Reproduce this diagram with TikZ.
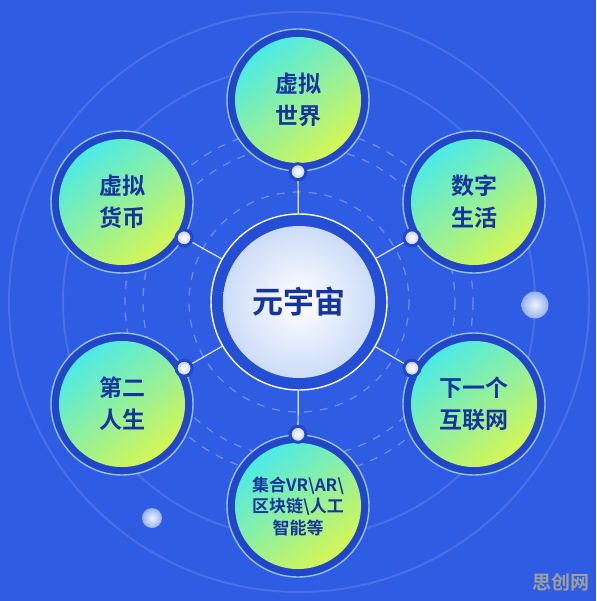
\documentclass[tikz,border=0pt]{standalone}
\usepackage{fontspec}
\newfontfamily\cjk{Noto Sans CJK SC Bold}
\definecolor{bgblue}{RGB}{46,92,226}
\definecolor{bandblue}{RGB}{33,70,200}
\definecolor{rimblue}{RGB}{150,195,255}
\definecolor{topcyan}{RGB}{76,234,230}
\definecolor{toplime}{RGB}{214,246,84}
\definecolor{inkblue}{RGB}{22,52,160}
\definecolor{hubblue}{RGB}{36,78,212}
\definecolor{hubpale}{RGB}{204,220,248}
\definecolor{knobgray}{RGB}{196,208,238}
\definecolor{orbblue}{RGB}{150,176,240}
\tikzset{
  faint/.style={draw=white,draw opacity=0.13,line width=2pt},
  dashring/.style={draw=white,draw opacity=0.3,line width=1.3pt,dash pattern=on 8pt off 8pt},
  rim/.style={circle,minimum size=142pt,inner sep=0pt,fill=bandblue,draw=rimblue,line width=1.4pt},
  topic/.style={circle,minimum size=126pt,inner sep=0pt,align=center,text=inkblue,
    font=\cjk\fontsize{23}{32}\selectfont,top color=topcyan,bottom color=toplime,shading angle=38},
  knob/.style={circle,minimum size=16pt,inner sep=0pt,inner color=white,outer color=knobgray,
    draw=bandblue,line width=3pt},
  spoke/.style={draw=white,draw opacity=0.85,line width=1.2pt},
  orb/.style={circle,inner sep=0pt,inner color=white!85!orbblue,outer color=orbblue},
}
\begin{document}
\begin{tikzpicture}[x=1pt,y=1pt,yscale=-1,xscale=1]
\useasboundingbox (0,0) rectangle (596,601);

%Background
\fill[bgblue] (0,0) rectangle (596,601);
\coordinate (mid) at (299,302);

%Rings round the hub
\draw[faint] (mid) circle (290);
\draw[faint] (mid) circle (236);
\draw[dashring] (mid) circle (174);
\draw[dashring] (mid) circle (156);
\draw[dashring] (mid) circle (110);

%Small orbs
\node[orb,minimum size=27pt] (orbR) at (535,305) {};
\node[orb,minimum size=20pt] (orbL) at (152,518) {};

%Hub
\node[circle,minimum size=176pt,fill=hubblue,draw=white,line width=1.4pt] (hub) at (mid) {};
\node[circle,minimum size=152pt,inner sep=0pt,inner color=white,outer color=hubpale,text=inkblue,
  font=\cjk\fontsize{31}{36}\selectfont] (yuzhou) at (mid) {元宇宙};

%Topics
\node[rim] (rimA) at (298,100) {};
\node[topic] (shijie) at (rimA) {虚拟\\世界};
\node[rim] (rimB) at (474,202) {};
\node[topic] (shenghuo) at (rimB) {数字\\生活};
\node[rim] (rimC) at (474,404) {};
\node[topic] (hulianwang) at (rimC) {下一个\\互联网};
\node[rim] (rimD) at (298,506) {};
\node[topic,font=\cjk\fontsize{17}{21.5}\selectfont] (jihe) at (rimD) {集合VR\textbackslash AR\textbackslash\\区块链\textbackslash 人工\\智能等};
\node[rim] (rimE) at (122,404) {};
\node[topic] (rensheng) at (rimE) {第二\\人生};
\node[rim] (rimF) at (122,202) {};
\node[topic] (huobi) at (rimF) {虚拟\\货币};

%Knobs
\node[knob] (knobA) at (rimA.270) {};
\node[knob] (knobB) at (rimB.210) {};
\node[knob] (knobC) at (rimC.150) {};
\node[knob] (knobD) at (rimD.90) {};
\node[knob] (knobE) at (rimE.30) {};
\node[knob] (knobF) at (rimF.330) {};

%Spokes
\draw[spoke] (hub) -- (knobA);
\draw[spoke] (hub) -- (knobB);
\draw[spoke] (hub) -- (knobC);
\draw[spoke] (hub) -- (knobD);
\draw[spoke] (hub) -- (knobE);
\draw[spoke] (hub) -- (knobF);

% Text Node
\node[text=gray!75,font=\cjk\fontsize{19}{19}\selectfont] (mark) at (561,582) {思创网};

\end{tikzpicture}
\end{document}
